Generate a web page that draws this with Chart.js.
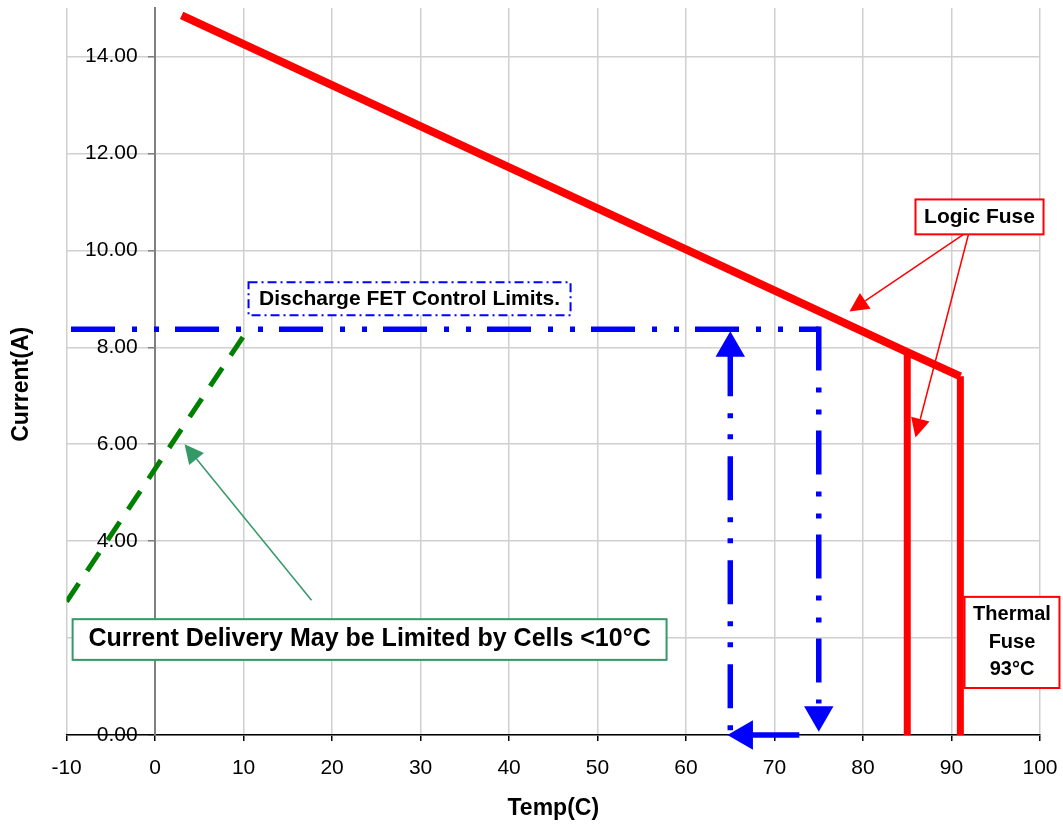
<!DOCTYPE html>
<html>
<head>
<meta charset="utf-8">
<script src="https://cdn.jsdelivr.net/npm/chart.js@4/dist/chart.umd.min.js"></script>
<style>
  html, body { margin: 0; padding: 0; background: #fff; }
  #wrap { width: 1063px; height: 826px; }
</style>
</head>
<body>
<div id="wrap"><canvas id="grafico"></canvas></div>
<script>
// axis ticks
const tempTicks = [-10, 0, 10, 20, 30, 40, 50, 60, 70, 80, 90, 100];
const currentTicks = [0, 2, 4, 6, 8, 10, 12, 14];

// logic fuse limit line and the two cut-offs
const logicTemp = [3, 85, 91];
const logicAmps = [14.85, 7.9, 7.4];
const logicCutTemp = [85, 85];
const logicCutAmps = [7.9, 0];
const thermalCutTemp = [91, 91];
const thermalCutAmps = [7.4, 0];

// discharge FET control limits (blue)
const fetTemp = [-9.5, 75];
const fetAmps = [8.37, 8.37];
const fetDropTemp = [75, 75];
const fetDropAmps = [8.43, 0.65];
const fetBackTemp = [72.8, 67];
const fetBackAmps = [0, 0];
const fetRiseTemp = [65, 65];
const fetRiseAmps = [0.1, 7.85];
const fetHeadTemp = [75, 66.6, 65];
const fetHeadAmps = [0.42, 0, 7.98];

// cold cell limit (green dashed)
const coldTemp = [-10, 10.5];
const coldAmps = [2.75, 8.37];

function pts(xs, ys) {
    return xs.map((x, i) => ({ x: x, y: ys[i] }));
}

const font = 'Liberation Sans, Arial, sans-serif';
Chart.defaults.font.family = font;
Chart.defaults.color = '#000';

// text boxes and callout arrows, placed in data units
const notes = [
    { text: ['Discharge FET Control Limits.'], from: [10.56, 9.34], to: [46.95, 8.66], size: 21, border: '#0000ff', dash: [9, 4, 2, 4] },
    { text: ['Current Delivery May be Limited by Cells <10°C'], from: [-9.32, 2.39], to: [57.8, 1.55], size: 25, border: '#339966' },
    { text: ['Logic Fuse'], from: [85.93, 11.05], to: [100.4, 10.33], size: 21, border: '#ff0000' },
    { text: ['Thermal', 'Fuse', '93°C'], from: [91.47, 2.85], to: [102.2, 0.97], size: 20, border: '#ff0000', gap: 27.5 }
];
const callouts = [
    { from: [17.68, 2.78], to: [3.33, 6.0], color: '#339966' },
    { from: [92.03, 10.41], to: [78.47, 8.74], color: '#ff0000' },
    { from: [92.03, 10.41], to: [85.93, 6.14], color: '#ff0000' }
];

function toPx(chart, p) {
    return [chart.scales.x.getPixelForValue(p[0]), chart.scales.y.getPixelForValue(p[1])];
}

function drawArrow(ctx, a, b, color) {
    const ang = Math.atan2(b[1] - a[1], b[0] - a[0]);
    const len = 19, half = 9.5;
    const bx = b[0] - Math.cos(ang) * len, by = b[1] - Math.sin(ang) * len;
    ctx.save();
    ctx.strokeStyle = color;
    ctx.fillStyle = color;
    ctx.lineWidth = 1.5;
    ctx.beginPath();
    ctx.moveTo(a[0], a[1]);
    ctx.lineTo(bx, by);
    ctx.stroke();
    ctx.beginPath();
    ctx.moveTo(b[0], b[1]);
    ctx.lineTo(bx + Math.sin(ang) * half, by - Math.cos(ang) * half);
    ctx.lineTo(bx - Math.sin(ang) * half, by + Math.cos(ang) * half);
    ctx.closePath();
    ctx.fill();
    ctx.restore();
}

const notesPlugin = {
    id: 'notes',
    afterDraw(chart) {
        const ctx = chart.ctx;
        callouts.forEach(c => drawArrow(ctx, toPx(chart, c.from), toPx(chart, c.to), c.color));
        notes.forEach(n => {
            const p0 = toPx(chart, n.from), p1 = toPx(chart, n.to);
            ctx.save();
            ctx.fillStyle = '#fff';
            ctx.fillRect(p0[0], p0[1], p1[0] - p0[0], p1[1] - p0[1]);
            ctx.strokeStyle = n.border;
            ctx.lineWidth = 2;
            ctx.setLineDash(n.dash || []);
            ctx.strokeRect(p0[0], p0[1], p1[0] - p0[0], p1[1] - p0[1]);
            ctx.setLineDash([]);
            ctx.fillStyle = '#000';
            ctx.font = 'bold ' + n.size + 'px ' + font;
            ctx.textAlign = 'center';
            ctx.textBaseline = 'middle';
            const cx = (p0[0] + p1[0]) / 2, cy = (p0[1] + p1[1]) / 2;
            const gap = n.gap || 0;
            n.text.forEach((t, i) => {
                ctx.fillText(t, cx, cy + (i - (n.text.length - 1) / 2) * gap);
            });
            ctx.restore();
        });
    }
};

const fetDash = [44, 17, 5, 17, 5, 16];

new Chart(document.getElementById('grafico'), {
    type: 'scatter',
    data: {
        datasets: [
            { data: pts(logicTemp, logicAmps), showLine: true, borderColor: '#ff0000', borderWidth: 8, pointRadius: 0 },
            { data: pts(logicCutTemp, logicCutAmps), showLine: true, borderColor: '#ff0000', borderWidth: 7, pointRadius: 0 },
            { data: pts(thermalCutTemp, thermalCutAmps), showLine: true, borderColor: '#ff0000', borderWidth: 7, pointRadius: 0 },
            { data: pts(fetTemp, fetAmps), showLine: true, borderColor: '#0000ff', borderWidth: 5.5, borderDash: fetDash, pointRadius: 0 },
            { data: pts(fetDropTemp, fetDropAmps), showLine: true, borderColor: '#0000ff', borderWidth: 5.5, borderDash: fetDash, pointRadius: 0 },
            { data: pts(fetRiseTemp, fetRiseAmps), showLine: true, borderColor: '#0000ff', borderWidth: 5.5, borderDash: [5, 17, 44, 17, 5, 16], pointRadius: 0 },
            { data: pts(fetBackTemp, fetBackAmps), showLine: true, borderColor: '#0000ff', borderWidth: 5.5, pointRadius: 0, clip: false },
            {
                data: pts(fetHeadTemp, fetHeadAmps), showLine: false, pointStyle: 'triangle',
                pointRadius: 17, pointRotation: [180, -90, 0], backgroundColor: '#0000ff',
                pointBorderWidth: 0, borderColor: '#0000ff', clip: false
            },
            { data: pts(coldTemp, coldAmps), showLine: true, borderColor: '#008000', borderWidth: 5, borderDash: [22, 15], pointRadius: 0 }
        ]
    },
    options: {
        responsive: true,
        maintainAspectRatio: false,
        animation: false,
        events: [],
        layout: { autoPadding: false, padding: { left: 0, right: 23, top: 8, bottom: 0 } },
        plugins: { legend: { display: false }, tooltip: { enabled: false } },
        scales: {
            x: {
                type: 'linear', position: 'bottom', min: -10, max: 100,
                afterBuildTicks: s => { s.ticks = tempTicks.map(v => ({ value: v })); },
                ticks: { font: { size: 21, lineHeight: 2.19 }, color: '#000', padding: 4, maxRotation: 0, callback: v => String(v) },
                grid: { color: '#d0d0d0', lineWidth: 1.5, tickColor: '#000', tickLength: 6 },
                border: { color: '#000', width: 1.5 },
                title: { display: true, text: 'Temp(C)', font: { size: 23, weight: 'bold', lineHeight: 1.2 }, color: '#000', padding: { top: 0, bottom: 3.4 } }
            },
            y: {
                type: 'linear', position: { x: 0 }, min: 0, max: 15,
                afterBuildTicks: s => { s.ticks = currentTicks.map(v => ({ value: v })); },
                // labels sit right-aligned on the axis, trailing spaces leave the gap
                ticks: { font: { size: 21, lineHeight: 0.76 }, color: '#000', padding: 0, callback: v => v.toFixed(2) + '   ' },
                grid: { color: '#d0d0d0', lineWidth: 1.5, tickColor: '#808080', tickLength: 6 },
                border: { color: '#808080', width: 2 }
            },
            yTitle: {
                type: 'linear', position: 'left', display: true,
                grid: { display: false, drawTicks: false },
                border: { display: false },
                ticks: { display: false },
                // trailing spaces nudge the rotated title a little lower
                title: { display: true, text: 'Current(A)    ', font: { size: 23, weight: 'bold' }, color: '#000', padding: { top: 8, bottom: 31 } }
            }
        }
    },
    plugins: [notesPlugin]
});
</script>
</body>
</html>
